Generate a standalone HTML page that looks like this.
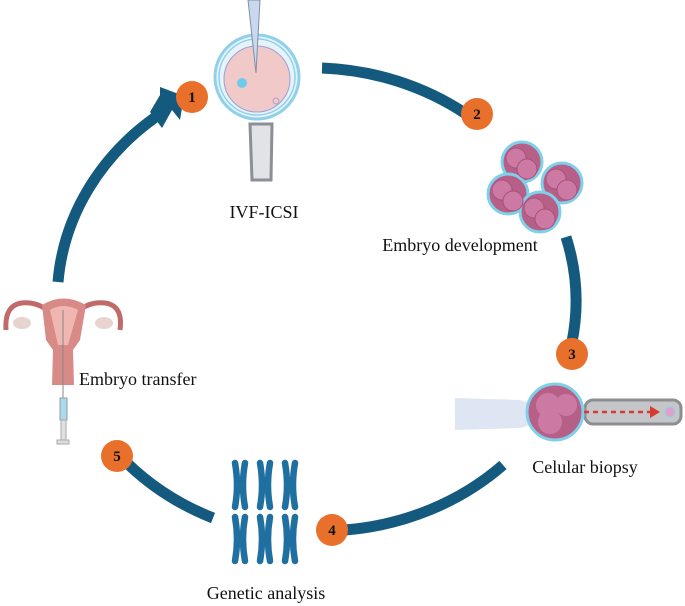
<!DOCTYPE html>
<html><head><meta charset="utf-8"><style>
html,body{margin:0;padding:0;background:#fff;}
svg{display:block}
text{font-family:"Liberation Serif",serif;fill:#111;}
</style></head><body>
<svg width="685" height="606" viewBox="0 0 685 606" xmlns="http://www.w3.org/2000/svg">
<defs>
<g id="chr" fill="none" stroke="#1f6fa0" stroke-width="6.5" stroke-linecap="round">
<path d="M-5,0 Q-1,22 -5,44"/><path d="M5,0 Q1,22 5,44"/>
</g>
</defs>
<g fill="none" stroke="#135a7e" stroke-width="11">
<path d="M322,68 A260,233 0 0 1 466,114"/>
<path d="M566,237 A260,233 0 0 1 572,342"/>
<path d="M503,465 A260,233 0 0 1 345,530"/>
<path d="M126,462 A260,233 0 0 0 213,518"/>
<path d="M58,282 A260,233 0 0 1 160,114"/>
</g>
<polygon points="150,112 160,95 160,87 184,96 180,120 172,110 162,128" fill="#135a7e"/>
<!-- egg -->
<circle cx="257" cy="77" r="42" fill="#e6f4fa" stroke="#8fd0ea" stroke-width="3"/>
<circle cx="257" cy="77" r="38" fill="none" stroke="#8fd0ea" stroke-width="1.5"/>
<circle cx="257" cy="79" r="33" fill="#f1c9c9" stroke="#9aa0d8" stroke-width="1"/>
<circle cx="242" cy="83" r="5" fill="#6ccde8"/>
<circle cx="276" cy="101" r="3" fill="none" stroke="#b0a0d0"/>
<polygon points="248,0 260,0 256,73" fill="#c8d8ee" stroke="#7f8fa8"/>
<polygon points="250,124 272,124 271,180 252,180" fill="#e2e3e6" stroke="#8b8f96" stroke-width="3"/>
<text x="264" y="218" font-size="18" text-anchor="middle">IVF-ICSI</text>
<!-- embryos -->
<g stroke="#7fd0ea" stroke-width="3" fill="#b66088">
<circle cx="522" cy="162" r="20"/><circle cx="562" cy="183" r="20"/>
<circle cx="508" cy="194" r="20"/><circle cx="540" cy="212" r="20"/>
</g>
<g fill="#cc7aa3" stroke="#a8507a" stroke-width="1">
<circle cx="516" cy="158" r="10"/><circle cx="527" cy="169" r="10"/>
<circle cx="556" cy="179" r="10"/><circle cx="567" cy="190" r="10"/>
<circle cx="502" cy="190" r="10"/><circle cx="513" cy="201" r="10"/>
<circle cx="534" cy="208" r="10"/><circle cx="545" cy="219" r="10"/>
</g>
<text x="460" y="251" font-size="18" text-anchor="middle">Embryo development</text>
<!-- biopsy -->
<path d="M455,398 L520,400 Q535,404 545,410 L545,418 Q535,424 520,428 L455,430Z" fill="#dde6f2"/>
<rect x="585" y="400" width="96" height="24" rx="8" fill="#c4c6ca" stroke="#8c8e92" stroke-width="3"/>
<circle cx="555" cy="412" r="28" fill="#b66088" stroke="#7fd0ea" stroke-width="3"/>
<circle cx="548" cy="405" r="12" fill="#cc7aa3"/><circle cx="566" cy="405" r="11" fill="#cc7aa3"/><circle cx="550" cy="422" r="12" fill="#cc7aa3"/>
<line x1="584" y1="412" x2="650" y2="412" stroke="#d73a2e" stroke-width="2.5" stroke-dasharray="5,4"/>
<polygon points="650,406 660,412 650,418" fill="#d73a2e"/>
<circle cx="670" cy="412" r="5" fill="#e0a0c8" stroke="#8fd0ea"/>
<text x="585" y="473" font-size="18" text-anchor="middle">Celular biopsy</text>
<!-- chromosomes -->
<use href="#chr" x="240" y="463"/><use href="#chr" x="265" y="463"/><use href="#chr" x="290" y="463"/>
<use href="#chr" x="240" y="517"/><use href="#chr" x="265" y="517"/><use href="#chr" x="290" y="517"/>
<text x="266" y="599" font-size="18" text-anchor="middle">Genetic analysis</text>
<!-- uterus -->
<path d="M6,330 Q4,300 30,303 Q45,305 55,318 M120,330 Q124,300 96,303 Q82,305 72,318" fill="none" stroke="#c06a6a" stroke-width="5"/>
<ellipse cx="22" cy="323" rx="9" ry="6" fill="#e7d3cf"/><ellipse cx="104" cy="323" rx="9" ry="6" fill="#e7d3cf"/>
<path d="M42,305 Q63,292 86,305 L80,340 L73,350 L74,385 L52,385 L53,350 L46,340Z" fill="#d88a86"/>
<path d="M50,310 Q63,302 78,310 L68,345 L58,345Z" fill="#f0b6b2"/>
<line x1="63" y1="310" x2="63" y2="398" stroke="#888" stroke-width="1"/>
<rect x="60" y="398" width="7" height="22" fill="#a9daf0" stroke="#999"/>
<rect x="61" y="420" width="5" height="20" fill="#e0e0e0" stroke="#aaa"/>
<rect x="57" y="440" width="12" height="4" fill="#ddd" stroke="#aaa"/>
<text x="79" y="385" font-size="18">Embryo transfer</text>
<!-- badges -->
<g fill="#e8702a">
<circle cx="192" cy="97" r="16"/><circle cx="477" cy="114" r="16"/><circle cx="572" cy="354" r="16"/>
<circle cx="332" cy="530" r="16"/><circle cx="117" cy="456" r="16"/>
</g>
<g font-size="15" font-weight="bold" text-anchor="middle">
<text x="192" y="102">1</text><text x="477" y="119">2</text><text x="572" y="359">3</text>
<text x="332" y="535">4</text><text x="117" y="461">5</text>
</g>
</svg>
</body></html>
